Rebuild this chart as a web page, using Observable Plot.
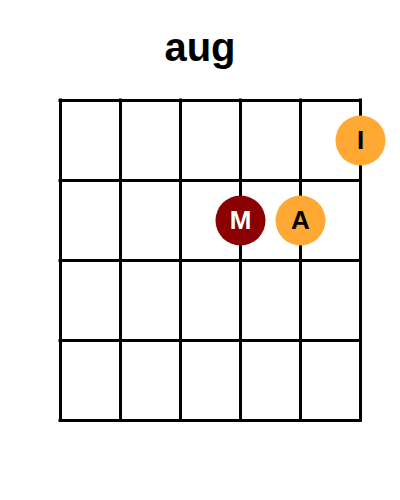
<!DOCTYPE html>
<html>
<head>
<meta charset="utf-8">
<script src="https://cdn.jsdelivr.net/npm/d3@7"></script>
<script src="https://cdn.jsdelivr.net/npm/@observablehq/plot@0.6"></script>
<style>
  html, body { margin: 0; padding: 0; background: #fff; }
  #title { width: 400px; height: 73px; padding-top: 7px; text-align: center; font: bold 40px "Liberation Sans", Arial, sans-serif; line-height: 80px; color: #000; }
  svg { display: block; }
</style>
</head>
<body>
<div id="title">aug</div>
<div id="chart"></div>
<script>
const strings = [1, 2, 3, 4, 5, 6];
const frets = [0, 1, 2, 3, 4];
const noteLabels = ["I", "M", "A"];
const noteStrings = [6, 4, 5];
const noteFrets = [1, 2, 2];
const noteFill = ["#ffa833", "#8b0000", "#ffa833"];
const noteText = ["#000000", "#ffffff", "#000000"];

const notes = noteLabels.map((label, i) => ({
  label, string: noteStrings[i], fret: noteFrets[i] - 0.5, fill: noteFill[i], text: noteText[i]
}));

const chart = Plot.plot({
  width: 400,
  height: 420,
  x: { domain: [1, 6], range: [60, 360], axis: null },
  y: { domain: [0, 4], range: [20, 340], axis: null },
  marks: [
    Plot.ruleX(strings, { x: d => d, y1: 0, y2: 4, stroke: "#000", strokeWidth: 3, strokeLinecap: "square" }),
    Plot.ruleY(frets, { y: d => d, x1: 1, x2: 6, stroke: "#000", strokeWidth: 3, strokeLinecap: "square" }),
    Plot.dot(notes, { x: "string", y: "fret", r: 25, fill: d => d.fill, stroke: "none" }),
    Plot.text(notes, { x: "string", y: "fret", text: "label", fill: d => d.text, fontSize: 26, fontWeight: "bold", fontFamily: "Liberation Sans, Arial, sans-serif" })
  ]
});
document.getElementById("chart").appendChild(chart);
</script>
</body>
</html>
